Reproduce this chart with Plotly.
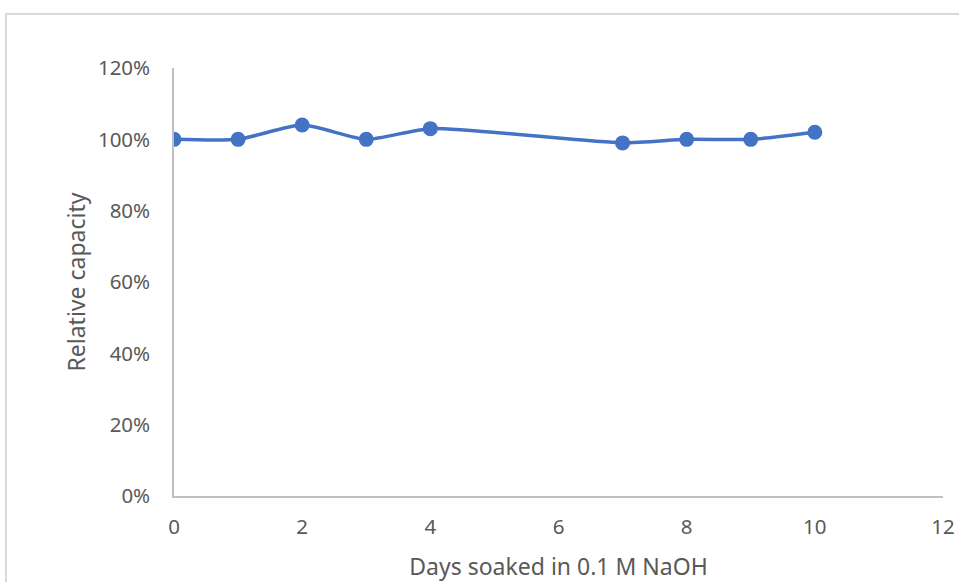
import plotly.graph_objects as go

days = [0, 1, 2, 3, 4, 7, 8, 9, 10]
relative_capacity = [1.00, 1.00, 1.04, 1.00, 1.03, 0.99, 1.00, 1.00, 1.02]
x_ticks = [0, 2, 4, 6, 8, 10, 12]
y_ticks = [0, 0.2, 0.4, 0.6, 0.8, 1.0, 1.2]
y_tick_labels = ["0%", "20%", "40%", "60%", "80%", "100%", "120%"]

FONT = "Noto Sans, Open Sans, sans-serif"
GRAY_TXT = "#595959"
AXIS = "#bfbfbf"

fig = go.Figure()
fig.add_trace(go.Scatter(
    x=days, y=relative_capacity, mode="lines+markers",
    line=dict(color="#4472C4", width=3.5, shape="spline", smoothing=0.6),
    marker=dict(color="#4472C4", size=15),
    showlegend=False,
))

fig.update_layout(
    width=959, height=582,
    margin=dict(l=174, r=16, t=68, b=86),
    paper_bgcolor="white", plot_bgcolor="white",
    font=dict(family=FONT, color=GRAY_TXT, size=20),
    xaxis=dict(
        range=[0, 12], tickvals=x_ticks, showgrid=False, zeroline=False,
        showline=True, linecolor=AXIS, linewidth=1.5, ticks="", automargin=False,
        ticklabelstandoff=12, tickfont=dict(size=20.5, color=GRAY_TXT),
        title=dict(text="Days soaked in 0.1 M NaOH", font=dict(size=23, color=GRAY_TXT), standoff=22),
    ),
    yaxis=dict(
        range=[0, 1.2], tickvals=y_ticks, ticktext=y_tick_labels,
        showgrid=False, zeroline=False, showline=True, linecolor=AXIS, linewidth=1.5,
        ticks="", automargin=False, ticklabelstandoff=18, tickfont=dict(size=20.5, color=GRAY_TXT),
        title=dict(text="Relative capacity", font=dict(size=23, color=GRAY_TXT), standoff=6),
    ),
    shapes=[dict(
        type="rect", xref="paper", yref="paper",
        x0=(6 - 174) / 769, x1=1.2, y0=-0.3, y1=(496 - 14) / 428,
        line=dict(color="#d9d9d9", width=2), fillcolor="rgba(0,0,0,0)", layer="below",
    )],
)

fig.write_html(
    "out.html",
    config={"displayModeBar": False},
    post_script="document.body.style.margin='0';document.body.style.overflow='hidden';",
)
